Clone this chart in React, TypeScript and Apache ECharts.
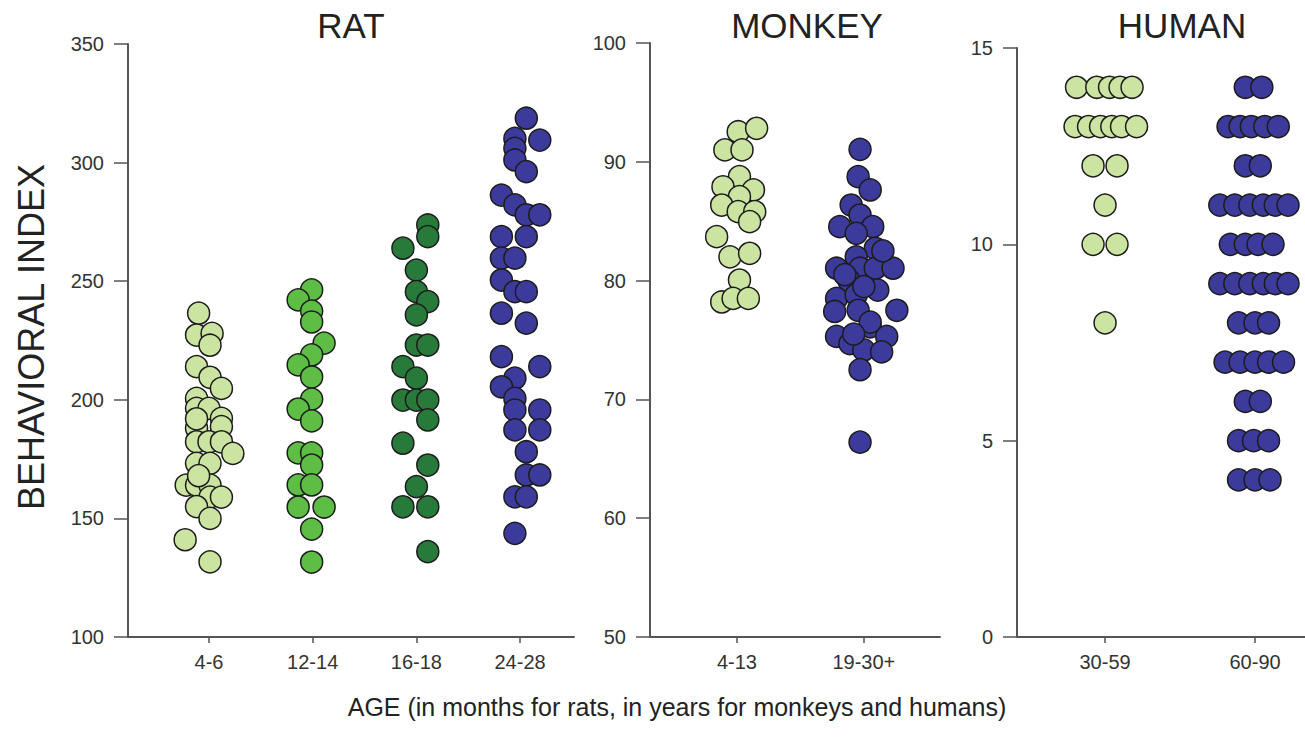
import React, { useEffect, useRef } from "react";
import * as echarts from "echarts";

// ---------- categories ----------
const ratCats = ["4-6", "12-14", "16-18", "24-28"];
const monkeyCats = ["4-13", "19-30+"];
const humanCats = ["30-59", "60-90"];

// ---------- tick labels ----------
const ratTicks = [100, 150, 200, 250, 300, 350];
const monkeyTicks = [50, 60, 70, 80, 90, 100];
const humanTicks = [0, 5, 10, 15];

// ---------- series values (behavioral index) and horizontal swarm offsets (in category units) ----------
const rat46Values = [236.5, 227.3, 228, 223, 214, 209.5, 204.8, 200.6, 196.4, 196.4, 192.2, 188, 188.7, 182.3, 182.3, 182.3, 177.4, 173.2, 173.2, 164, 164, 164, 159, 159, 155, 150, 141, 131.7, 192, 168];
const rat46Offsets = [-0.1, -0.12, 0.03, 0.01, -0.12, 0.01, 0.12, -0.12, -0.12, 0.0, 0.12, -0.12, 0.12, -0.12, 0.0, 0.12, 0.23, -0.12, 0.01, -0.22, -0.12, 0.01, 0.01, 0.12, -0.12, 0.01, -0.23, 0.01, -0.12, -0.1];

const rat1214Values = [246.3, 242.1, 237.4, 232.8, 223.9, 218.9, 214.7, 209.6, 200.3, 196.1, 191.1, 177.6, 177.6, 172.5, 164.1, 164.1, 154.8, 154.8, 145.5, 131.6];
const rat1214Offsets = [-0.01, -0.14, -0.01, -0.01, 0.11, -0.01, -0.14, -0.01, -0.01, -0.14, -0.01, -0.14, -0.01, -0.01, -0.14, -0.01, -0.14, 0.11, -0.01, -0.01];

const rat1618Values = [273.7, 268.8, 263.9, 254.7, 245.6, 241.4, 235.8, 223.1, 223.1, 214, 209.1, 199.9, 199.9, 199.9, 191.5, 181.7, 172.5, 163.4, 154.9, 154.9, 136];
const rat1618Offsets = [0.11, 0.11, -0.13, 0, 0, 0.11, 0, 0, 0.11, -0.13, 0, -0.13, 0, 0.11, 0.11, -0.13, 0.11, 0, -0.13, 0.11, 0.11];

const rat2428Values = [318.7, 310.2, 309.5, 306.0, 301.1, 296.2, 286.3, 282.2, 278.0, 278.0, 268.8, 268.8, 259.7, 259.7, 250.5, 245.6, 245.6, 236.5, 232.3, 218.2, 214.0, 209.1, 205.5, 200.6, 195.7, 195.7, 187.3, 187.3, 178.1, 168.3, 168.3, 159.1, 159.1, 143.7];
const rat2428Offsets = [0.06, -0.05, 0.19, -0.05, -0.05, 0.06, -0.18, -0.05, 0.06, 0.19, -0.18, 0.06, -0.18, -0.05, -0.18, -0.05, 0.06, -0.18, 0.06, -0.18, 0.19, -0.05, -0.18, -0.05, -0.05, 0.19, -0.05, 0.19, 0.06, 0.06, 0.19, -0.05, 0.06, -0.05];

const monkeyYoungValues = [92.53, 92.82, 91.0, 91.0, 88.75, 87.9, 87.63, 87.06, 86.36, 85.8, 85.8, 84.96, 83.7, 82.0, 82.3, 80.05, 78.2, 78.5, 78.5];
const monkeyYoungOffsets = [0.01, 0.155, -0.095, 0.04, 0.02, -0.11, 0.13, 0.02, -0.12, 0.01, 0.14, 0.1, -0.16, -0.055, 0.1, 0.02, -0.12, -0.03, 0.09];

const monkeyOldValues = [91.05, 88.75, 87.63, 86.36, 85.52, 84.54, 84.54, 83.98, 82.72, 82.0, 81.04, 81.04, 81.04, 81.04, 80.05, 79.2, 78.5, 78.8, 77.4, 77.5, 77.5, 76.1, 75.3, 74.7, 75.3, 74.16, 74.0, 72.5, 66.4, 79.5, 76.5, 75.5, 80.5, 82.5];
const monkeyOldOffsets = [-0.03, -0.045, 0.05, -0.1, -0.03, -0.19, 0.07, -0.06, 0.09, -0.06, -0.215, -0.03, 0.09, 0.23, -0.12, 0.11, -0.215, -0.06, -0.23, -0.045, 0.26, 0.05, -0.215, -0.11, 0.18, 0.0, 0.14, -0.03, -0.03, 0.0, 0.05, -0.08, -0.15, 0.15];

const humanYoungValues = [14, 14, 14, 14, 14, 13, 13, 13, 13, 13, 13, 12, 12, 11, 10, 10, 8];
const humanYoungOffsets = [-0.19, -0.055, 0.03, 0.1, 0.18, -0.2, -0.11, -0.03, 0.045, 0.11, 0.21, -0.08, 0.08, 0, -0.08, 0.08, 0];

const humanOldValues = [14, 14, 13, 13, 13, 13, 13, 12, 12, 11, 11, 11, 11, 11, 11, 10, 10, 10, 10, 9, 9, 9, 9, 9, 9, 8, 8, 8, 7, 7, 7, 7, 7, 6, 6, 5, 5, 5, 4, 4, 4];
const humanOldOffsets = [-0.065, 0.045, -0.18, -0.1, -0.025, 0.065, 0.155, -0.065, 0.035, -0.235, -0.135, -0.035, 0.055, 0.135, 0.22, -0.165, -0.065, 0.02, 0.12, -0.235, -0.135, -0.035, 0.055, 0.135, 0.22, -0.11, 0, 0.09, -0.2, -0.1, 0, 0.09, 0.19, -0.065, 0.035, -0.11, -0.01, 0.09, -0.11, 0, 0.1];

// ---------- colours ----------
const LIGHT = "#cbe4a2";
const MID = "#5dbd45";
const DARK = "#287a3b";
const BLUE = "#3c3a9b";

const FONT = "Liberation Sans, Arial, Helvetica, sans-serif";
const AXIS_COLOR = "#555555";
const TEXT_COLOR = "#333333";

function pts(cat: number, values: number[], offsets: number[]) {
  return values.map((v, i) => [cat + offsets[i], v]);
}

function dotSeries(xIdx: number, data: number[][], color: string) {
  return {
    type: "scatter",
    xAxisIndex: xIdx,
    yAxisIndex: xIdx,
    data,
    symbol: "circle",
    symbolSize: 22,
    itemStyle: { color, borderColor: "#1c1c1c", borderWidth: 1.5, opacity: 1 },
    silent: true,
  };
}

function xAxisDef(grid: number, min: number, max: number, cats: string[]) {
  const vals = cats.map((_, i) => i);
  return {
    type: "value",
    gridIndex: grid,
    min,
    max,
    splitLine: { show: false },
    axisLine: { show: true, onZero: false, lineStyle: { color: AXIS_COLOR, width: 2 } },
    axisTick: { show: true, length: 6, customValues: vals, lineStyle: { color: AXIS_COLOR, width: 1.5 } },
    axisLabel: {
      show: true,
      customValues: vals,
      formatter: (v: number) => cats[Math.round(v)] ?? "",
      fontSize: 20,
      fontFamily: FONT,
      color: TEXT_COLOR,
      margin: 15,
    },
  };
}

function yAxisDef(grid: number, ticks: number[]) {
  return {
    type: "value",
    gridIndex: grid,
    min: ticks[0],
    max: ticks[ticks.length - 1],
    interval: ticks[1] - ticks[0],
    splitLine: { show: false },
    axisLine: { show: true, onZero: false, lineStyle: { color: AXIS_COLOR, width: 2 } },
    axisTick: { show: true, length: 14, lineStyle: { color: AXIS_COLOR, width: 1.5 } },
    axisLabel: { fontSize: 20, fontFamily: FONT, color: TEXT_COLOR, margin: 24 },
  };
}

export default function App() {
  const ref = useRef<HTMLDivElement>(null);
  useEffect(() => {
    if (!ref.current) return;
    const chart = echarts.init(ref.current, null, { renderer: "svg" });
    chart.setOption({
      animation: false,
      backgroundColor: "#ffffff",
      grid: [
        { left: 128, top: 44, width: 446, height: 593 },
        { left: 650, top: 43, width: 290, height: 594 },
        { left: 1017, top: 48, width: 288, height: 589 },
      ],
      xAxis: [
        xAxisDef(0, -0.781, 3.52, ratCats),
        xAxisDef(1, -0.685, 1.6, monkeyCats),
        xAxisDef(2, -0.587, 1.333, humanCats),
      ],
      yAxis: [yAxisDef(0, ratTicks), yAxisDef(1, monkeyTicks), yAxisDef(2, humanTicks)],
      series: [
        dotSeries(0, pts(0, rat46Values, rat46Offsets), LIGHT),
        dotSeries(0, pts(1, rat1214Values, rat1214Offsets), MID),
        dotSeries(0, pts(2, rat1618Values, rat1618Offsets), DARK),
        dotSeries(0, pts(3, rat2428Values, rat2428Offsets), BLUE),
        dotSeries(1, pts(0, monkeyYoungValues, monkeyYoungOffsets), LIGHT),
        dotSeries(1, pts(1, monkeyOldValues, monkeyOldOffsets), BLUE),
        dotSeries(2, pts(0, humanYoungValues, humanYoungOffsets), LIGHT),
        dotSeries(2, pts(1, humanOldValues, humanOldOffsets), BLUE),
      ],
      graphic: [
        { type: "text", x: 351, y: 25, style: { text: "RAT", font: `35px ${FONT}`, fill: "#222", textAlign: "center", textVerticalAlign: "middle" } },
        { type: "text", x: 807, y: 25, style: { text: "MONKEY", font: `35px ${FONT}`, fill: "#222", textAlign: "center", textVerticalAlign: "middle" } },
        { type: "text", x: 1182, y: 25, style: { text: "HUMAN", font: `35px ${FONT}`, fill: "#222", textAlign: "center", textVerticalAlign: "middle" } },
        { type: "text", x: 31, y: 337, rotation: Math.PI / 2, style: { text: "BEHAVIORAL INDEX", font: `36px ${FONT}`, fill: "#222", textAlign: "center", textVerticalAlign: "middle" } },
        { type: "text", x: 677, y: 707, style: { text: "AGE (in months for rats, in years for monkeys and humans)", font: `25px ${FONT}`, fill: "#222", textAlign: "center", textVerticalAlign: "middle" } },
      ],
    });
    return () => chart.dispose();
  }, []);
  return <div ref={ref} style={{ position: "fixed", left: 0, top: 0, width: 1305, height: 748 }} />;
}
